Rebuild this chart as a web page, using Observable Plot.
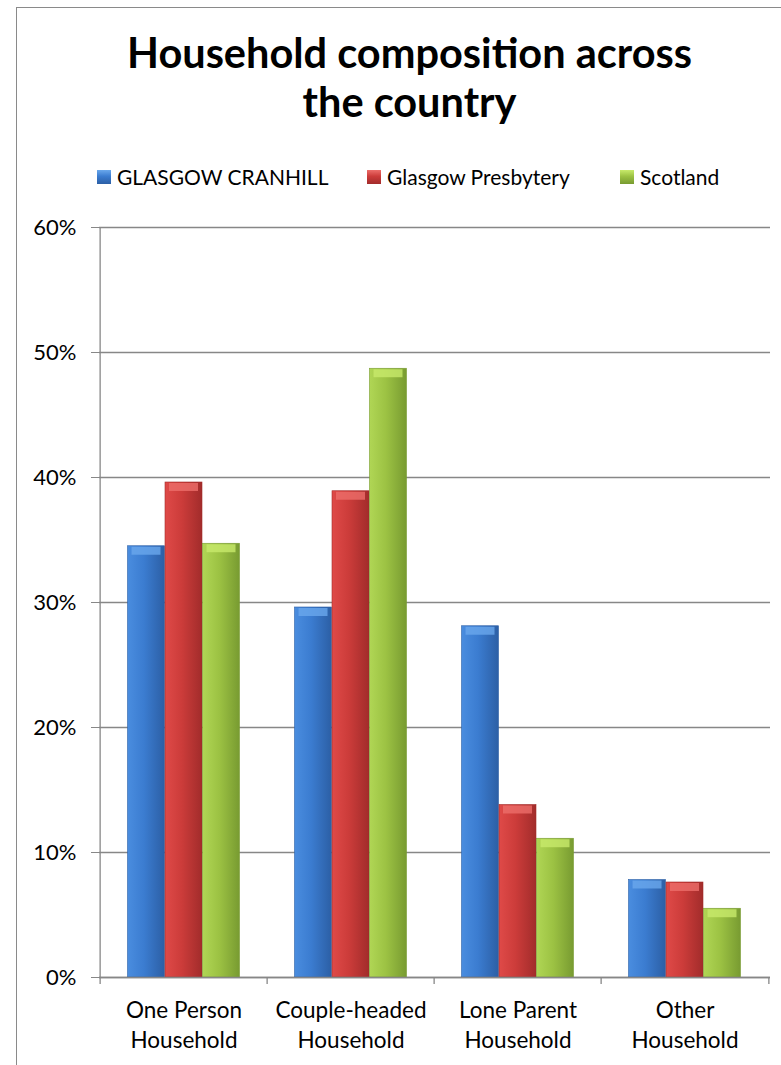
<!DOCTYPE html>
<html>
<head>
<meta charset="utf-8">
<script src="https://cdn.jsdelivr.net/npm/d3@7"></script>
<script src="https://cdn.jsdelivr.net/npm/@observablehq/plot@0.6"></script>
<style>
  html, body { margin: 0; padding: 0; background: #fff; }
  body { width: 781px; height: 1065px; position: relative; overflow: hidden; font-family: Lato, "Noto Sans", sans-serif; }
  #frame { position: absolute; left: 16px; top: 7px; width: 770px; height: 1100px; border: 1.5px solid #8a8a8a; box-sizing: border-box; }
  #title { position: absolute; left: 17px; width: 785px; top: 28px; text-align: center; font-weight: 700; font-size: 41.5px; line-height: 49px; color: #000; }
  #legend { position: absolute; top: 164px; left: 0; width: 781px; font-size: 21px; color: #000; }
  .li { position: absolute; top: 0; display: flex; align-items: center; gap: 6px; white-space: nowrap; }
  .sw { width: 14px; height: 14px; display: inline-block; }
  #chart { position: absolute; left: 0; top: 200px; }
</style>
</head>
<body>
<div id="frame"></div>
<div id="title">Household composition across<br>the country</div>
<div id="legend"></div>
<div id="chart"></div>
<script>
const categories = ["One Person Household", "Couple-headed Household", "Lone Parent Household", "Other Household"];
const categoryLabels = ["One Person\nHousehold", "Couple-headed\nHousehold", "Lone Parent\nHousehold", "Other\nHousehold"];
const seriesNames = ["GLASGOW CRANHILL", "Glasgow Presbytery", "Scotland"];
const cranhill = [0.345, 0.296, 0.281, 0.078];
const presbytery = [0.396, 0.389, 0.138, 0.076];
const scotland = [0.347, 0.487, 0.111, 0.055];
const yTicks = [0, 0.1, 0.2, 0.3, 0.4, 0.5, 0.6];

const seriesValues = [cranhill, presbytery, scotland];
const gradIds = ["gBlue", "gRed", "gGreen"];
const grads = [
  ["#4a8ddf", "#3b7cd0", "#2c5fa5"],
  ["#df4a48", "#cc3c3a", "#a22c2b"],
  ["#b0d655", "#9cc243", "#789b31"]
];
const capColors = ["#6aa8ec", "#ec6e6a", "#c8ea6c"];

const width = 781, height = 865;
const marginLeft = 99, marginRight = 11, marginTop = 27, marginBottom = 88;
const step = (width - marginLeft - marginRight) / categories.length;
const padInner = 0.7765;
const bw = step * (1 - padInner);
const offsets = [-bw, 0, bw];

const data = [];
seriesNames.forEach((s, si) => categories.forEach((c, ci) => data.push({series: s, si, category: c, value: seriesValues[si][ci]})));

const gray = "#878787";
const marks = [
  Plot.ruleY(yTicks, {stroke: gray, strokeWidth: 1.3}),
  Plot.axisY({ticks: yTicks, tickFormat: d3.format(".0%"), tickSize: 8, tickPadding: 15, stroke: gray, fontSize: 22, label: null}),
  Plot.axisX({tickSize: 0, tickPadding: 19, fontSize: 22.5, lineHeight: 1.33, tickFormat: d => categoryLabels[categories.indexOf(d)], label: null}),
];
seriesNames.forEach((s, si) => {
  const sub = data.filter(d => d.si === si);
  marks.push(Plot.barY(sub, {x: "category", y: "value", dx: offsets[si], fill: `url(#${gradIds[si]})`, stroke: grads[si][2], strokeWidth: 0.6}));
  marks.push(Plot.tickY(sub, {x: "category", y: "value", dx: offsets[si], dy: 4.5, stroke: capColors[si], strokeWidth: 8, insetLeft: 4, insetRight: 4, strokeOpacity: 0.8}));
});
// axis lines and boundary ticks
marks.push(Plot.ruleX([categories[0]], {dx: -step / 2, y1: 0, y2: 0.6, stroke: gray, strokeWidth: 1.3}));
marks.push(Plot.ruleY([0], {stroke: gray, strokeWidth: 1.3}));
marks.push(Plot.ruleX(categories, {dx: -step / 2, y1: 0, y2: 0, insetBottom: -7, stroke: gray, strokeWidth: 1.3}));
marks.push(Plot.ruleX([categories[categories.length - 1]], {dx: step / 2, y1: 0, y2: 0, insetBottom: -7, stroke: gray, strokeWidth: 1.3}));

const chart = Plot.plot({
  width, height, marginLeft, marginRight, marginTop, marginBottom,
  style: {fontFamily: "Lato, 'Noto Sans', sans-serif", fontSize: "20px", color: "#000", background: "transparent"},
  x: {domain: categories, paddingInner: padInner, paddingOuter: padInner / 2, axis: null},
  y: {domain: [0, 0.6], axis: null},
  marks
});

const ns = "http://www.w3.org/2000/svg";
const defs = document.createElementNS(ns, "defs");
gradIds.forEach((id, i) => {
  const g = document.createElementNS(ns, "linearGradient");
  g.setAttribute("id", id);
  g.setAttribute("x1", "0"); g.setAttribute("x2", "1"); g.setAttribute("y1", "0"); g.setAttribute("y2", "0");
  [[0, grads[i][0]], [0.45, grads[i][1]], [1, grads[i][2]]].forEach(([o, c]) => {
    const st = document.createElementNS(ns, "stop");
    st.setAttribute("offset", o); st.setAttribute("stop-color", c);
    g.appendChild(st);
  });
  defs.appendChild(g);
});
chart.insertBefore(defs, chart.firstChild);
document.getElementById("chart").appendChild(chart);

// legend
const legend = document.getElementById("legend");
const legendX = [97, 367, 620];
seriesNames.forEach((s, i) => {
  const item = document.createElement("div");
  item.className = "li";
  item.style.left = legendX[i] + "px";
  item.innerHTML = `<span class="sw" style="background: linear-gradient(180deg, ${capColors[i]} 0%, ${grads[i][1]} 45%, ${grads[i][2]} 100%)"></span><span>${s}</span>`;
  legend.appendChild(item);
});
</script>
</body>
</html>
